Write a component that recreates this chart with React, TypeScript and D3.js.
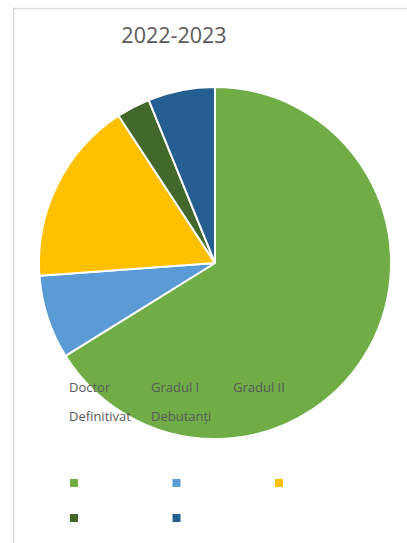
import React from "react";
import * as d3 from "d3";

const title = "2022-2023";
const categories = ["Doctor", "Gradul I", "Gradul II", "Definitivat", "Debutanți"];
const values = [43, 5, 11, 2, 4];
const colors = ["#70AD47", "#5B9BD5", "#FFC000", "#43682B", "#255E91"];

export default function App() {
  const W = 407, H = 543;
  const cx = 215, cy = 263, r = 176;
  const pie = d3.pie<number>().sort(null).value((d) => d)(values);
  const arc = d3.arc<d3.PieArcDatum<number>>().innerRadius(0).outerRadius(r);
  const labelX = d3.scalePoint<number>().domain([0, 1, 2]).range([69, 233]);
  const labelY = d3.scalePoint<number>().domain([0, 1]).range([392, 421]);
  const markX = d3.scalePoint<number>().domain([0, 1, 2]).range([70, 275]);
  const markY = d3.scalePoint<number>().domain([0, 1]).range([479, 514]);
  return (
    <svg width={W} height={H} style={{ position: "absolute", left: 0, top: 0, display: "block" }}>
      <rect x={0} y={0} width={W} height={H} fill="#fff" />
      <path d={`M13.5,${H} L13.5,8.5 L${W},8.5`} fill="none" stroke="#d9d9d9" strokeWidth={1.5} />
      <text x={174} y={43} textAnchor="middle" fontFamily="'Open Sans', sans-serif" fontSize={21.5} fill="#595959">
        {title}
      </text>
      <g transform={`translate(${cx},${cy})`}>
        {pie.map((p, i) => (
          <path key={i} d={arc(p) || ""} fill={colors[i]} stroke="#fff" strokeWidth={2} strokeLinejoin="round" />
        ))}
      </g>
      {categories.map((c, i) => (
        <text key={c} x={labelX(i % 3)} y={labelY(Math.floor(i / 3))} fontFamily="'Open Sans', sans-serif" fontSize={13} fill="#595959">
          {c}
        </text>
      ))}
      {categories.map((c, i) => (
        <rect key={"m" + c} x={markX(i % 3)} y={markY(Math.floor(i / 3))} width={8} height={8} fill={colors[i]} />
      ))}
    </svg>
  );
}
